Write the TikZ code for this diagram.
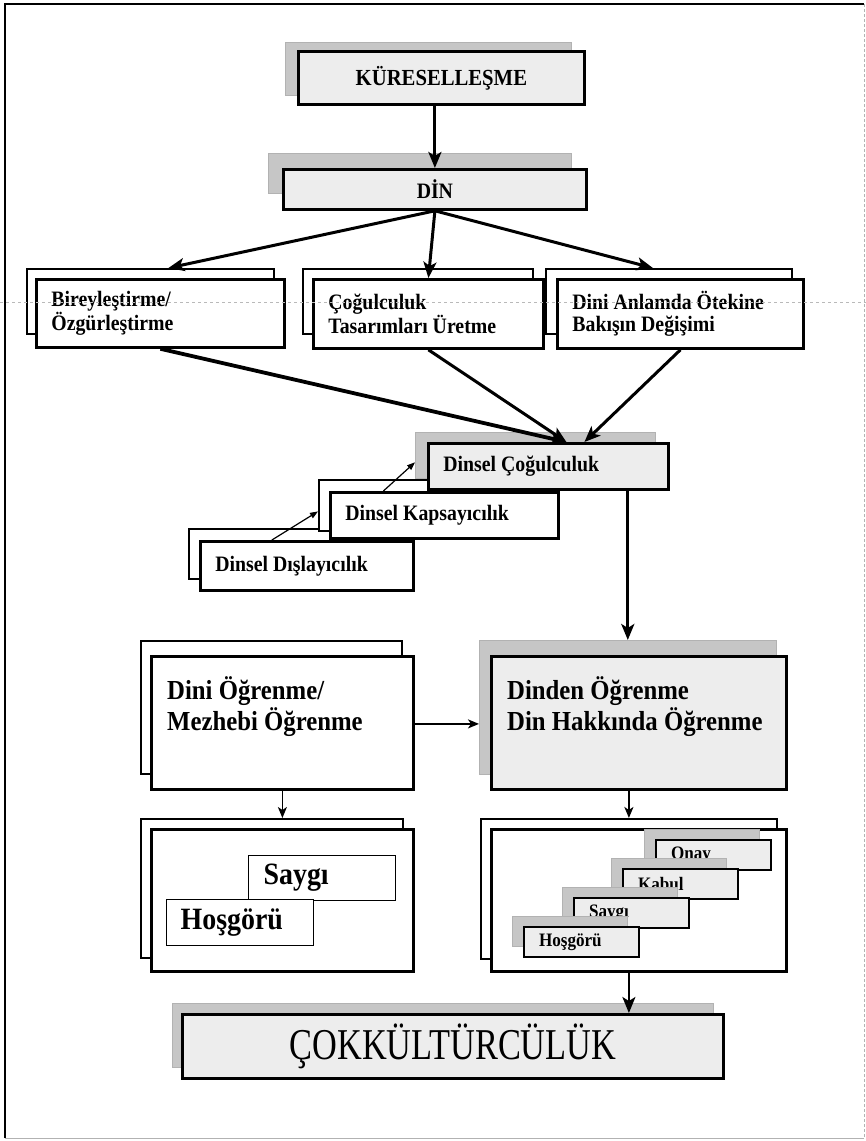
\documentclass[tikz,border=0pt]{standalone}
\usepackage{fontspec}
\setmainfont{Liberation Serif}[FakeStretch=0.9]
\newfontfamily\tallfont{Liberation Serif}[FakeStretch=0.78]
\usetikzlibrary{arrows.meta}

\begin{document}
\begin{tikzpicture}[x=1pt,y=-1pt,
  backbox/.style={draw,line width=1.8,fill=white,anchor=north west,inner sep=0},
  shadebox/.style={draw=gray!60,line width=0.6,fill=gray!45,anchor=north west,inner sep=0},
  frontbox/.style={draw,line width=2.8,fill=white,anchor=north west,inner xsep=15,inner ysep=0,align=flush left},
  greybox/.style={frontbox,fill=gray!14},
  thinbox/.style={draw,line width=1.2,fill=white,anchor=north west,inner xsep=15,inner ysep=0,align=flush left},
  stepbox/.style={draw,line width=2,fill=gray!14,anchor=north west,inner xsep=15,inner ysep=0,align=flush left,
    minimum width=115,minimum height=30,text width=85,font=\fontsize{19}{20}\selectfont\bfseries},
  stepshade/.style={shadebox,minimum width=115,minimum height=30},
  textonly/.style={anchor=north west,inner sep=0,align=flush left},
  fatarrow/.style={line width=3,-{Stealth[length=16pt,width=13pt,inset=4pt]}},
  midarrow/.style={line width=1.8,-{Stealth[length=11pt,width=9pt,inset=3pt]}},
  slimarrow/.style={line width=1.2,-{Triangle[length=8pt,width=6pt]}},
  tx/.style={font=\fontsize{22}{22}\selectfont\bfseries},
  ty/.style={font=\fontsize{27.5}{31}\selectfont\bfseries},
  tz/.style={font=\fontsize{31}{32}\selectfont\bfseries}
]
\useasboundingbox (0,0) rectangle (866,1141);

\draw[line width=2.5] (5,1138) -- (5,4) -- (864,4);
\draw[gray!60,line width=0.8,densely dashed] (864,4) -- (864,1138);
\draw[gray!60,line width=0.8] (864,1138) -- (5,1138);

\node[shadebox,minimum width=286,minimum height=53] (kurs) at (285,42) {};
\node[greybox,minimum width=286,minimum height=53,text width=256,align=flush center,font=\fontsize{23}{24}\selectfont\bfseries] (kur) at (297,50) {KÜRESELLEŞME};

\node[shadebox,minimum width=303,minimum height=40] (dins) at (268,153) {};
\node[greybox,minimum width=303,minimum height=40,text width=273,align=flush center,font=\fontsize{22}{24}\selectfont\bfseries] (din) at (282,168) {DİN};

\draw[fatarrow] (kur.south -| din.north) -- (din.north);

\node[backbox,minimum width=247,minimum height=65] (b1) at (26,268) {};
\node[frontbox,minimum width=248,minimum height=68,text width=218,tx] (f1) at (35,278) {Bireyleştirme/\\Özgürleştirme};
\node[backbox,minimum width=230,minimum height=65] (b2) at (302,268) {};
\node[frontbox,minimum width=230,minimum height=69,text width=200,tx] (f2) at (312,278) {Çoğulculuk\\Tasarımları Üretme};
\node[backbox,minimum width=246,minimum height=65] (b3) at (545,268) {};
\node[frontbox,minimum width=246,minimum height=69,text width=216,tx] (f3) at (556,278) {Dini Anlamda Ötekine\\Bakışın Değişimi};

\draw[fatarrow] (din.south) -- ([xshift=18pt]b1.north);
\draw[fatarrow] (din.south) -- (f2.north);
\draw[fatarrow] (din.south) -- ([xshift=-16pt]b3.north);

\node[backbox,minimum width=212,minimum height=50] (disb) at (188,528) {};
\node[frontbox,minimum width=213,minimum height=49,text width=183,tx] (dis) at (199,540) {Dinsel Dışlayıcılık};
\node[backbox,minimum width=230,minimum height=51] (kapb) at (318,479) {};
\node[frontbox,minimum width=228,minimum height=46,text width=198,tx] (kap) at (329,491) {Dinsel Kapsayıcılık};
\node[shadebox,minimum width=240,minimum height=46] (cogs) at (415,432) {};
\node[greybox,minimum width=240,minimum height=46,text width=210,tx] (cog) at (427,442) {Dinsel Çoğulculuk};

\draw[fatarrow,line width=3.8] (f1.south) -- ([xshift=18pt]cog.north);
\draw[fatarrow] (f2.south) -- ([xshift=18pt]cog.north);
\draw[fatarrow] (f3.south) -- ([xshift=36pt]cog.north);

\draw[slimarrow] ([xshift=-35pt]dis.north) -- ([yshift=-6pt]kapb.west);
\draw[slimarrow] ([xshift=-61pt]kap.north) -- ([yshift=-7pt]cogs.west);

\node[backbox,minimum width=261,minimum height=133] (dinib) at (140,640) {};
\node[frontbox,minimum width=262,minimum height=133] (dini) at (150,655) {};
\node[textonly,ty] (dinitx) at (167,676) {Dini Öğrenme/\\Mezhebi Öğrenme};
\node[shadebox,minimum width=297,minimum height=134] (dndes) at (479,640) {};
\node[greybox,minimum width=295,minimum height=133] (dnden) at (490,655) {};
\node[textonly,ty] (dndentx) at (507,676) {Dinden Öğrenme\\Din Hakkında Öğrenme};

\draw[fatarrow] (cog.south -| dndes.north) -- (dndes.north);
\draw[midarrow] ([yshift=-1pt]dini.east) -- ([yshift=-1pt]dini.east -| dndes.west);

\node[backbox,minimum width=262,minimum height=139] (llb) at (140,818) {};
\node[frontbox,minimum width=262,minimum height=142] (ll) at (150,828) {};
\node[thinbox,minimum width=147,minimum height=45,text width=117,tz] (say) at (248,855) {Saygı};
\node[thinbox,minimum width=147,minimum height=46,inner xsep=14,text width=119,tz] (hos) at (166,899) {Hoşgörü};

\node[backbox,minimum width=296,minimum height=140] (rlb) at (480,818) {};
\node[frontbox,minimum width=295,minimum height=142] (rl) at (490,828) {};
\node[stepshade] (onays) at (644,829) {};
\node[stepbox] (onay) at (655,839) {Onay};
\node[stepshade] (kabuls) at (611,858) {};
\node[stepbox] (kabul) at (622,868) {Kabul};
\node[stepshade] (saygis) at (562,887) {};
\node[stepbox] (saygi) at (573,897) {Saygı};
\node[stepshade] (hosgs) at (512,916) {};
\node[stepbox] (hosg) at (523,926) {Hoşgörü};

\draw[midarrow,line width=1.4] (dini.south) -- (dini.south |- llb.north);
\draw[midarrow,line width=2.4] (dnden.south -| rlb.north) -- (rlb.north);

\node[shadebox,minimum width=541,minimum height=64] (coks) at (172,1003) {};
\node[greybox,minimum width=541,minimum height=64,text width=511,align=flush center,font=\tallfont\fontsize{44}{46}\selectfont] (cok) at (181,1013) {ÇOKKÜLTÜRCÜLÜK};

\draw[fatarrow,line width=2.4] (rl.south -| rlb.north) -- (cok.north -| rlb.north);

\draw[gray!55,dashed,line width=0.6] (0,302) -- (866,302);

\end{tikzpicture}
\end{document}
